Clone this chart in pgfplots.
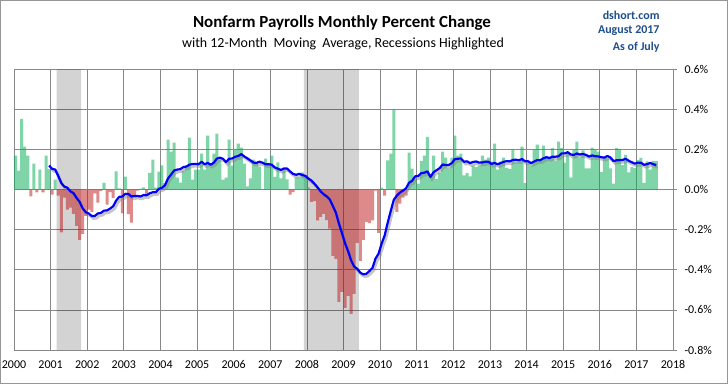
\documentclass[border=0pt]{standalone}
\usepackage{pgfplots}
\usepackage{pgfplotstable}
\pgfplotsset{compat=1.18}
\usepackage{fontspec}
\setmainfont{Carlito}
\definecolor{gridgray}{RGB}{136,136,136}
\definecolor{posgreen}{RGB}{0,173,81}
\definecolor{negred}{RGB}{190,22,22}
\definecolor{dblue}{RGB}{31,78,140}
\definecolor{frame}{RGB}{150,150,150}

% monthly percent change, Jan 2000 - Jul 2017
\pgfplotstableread{
p
0.17
0.095
0.353
0.215
0.17
-0.033
0.13
-0.013
0.10
-0.013
0.17
0.103
-0.025
0.05
-0.03
-0.213
-0.04
-0.10
-0.09
-0.12
-0.18
-0.25
-0.22
-0.13
-0.10
-0.11
-0.018
-0.065
-0.006
0.034
-0.074
-0.012
-0.041
0.092
0.007
-0.118
0.065
-0.122
-0.164
-0.038
-0.005
0.005
0.012
-0.03
0.084
0.15
0.01
0.09
0.122
0.033
0.25
0.19
0.235
0.06
0.035
0.093
0.12
0.26
0.05
0.10
0.10
0.18
0.10
0.27
0.13
0.18
0.28
0.15
0.05
0.06
0.25
0.12
0.20
0.23
0.21
0.13
0.017
0.057
0.15
0.135
0.115
0.002
0.155
0.125
0.17
0.064
0.137
0.057
0.105
0.052
-0.024
-0.012
0.062
0.06
0.086
0.07
0.012
-0.061
-0.057
-0.153
-0.135
-0.12
-0.152
-0.194
-0.33
-0.345
-0.56
-0.51
-0.59
-0.53
-0.62
-0.52
-0.265
-0.355
-0.25
-0.16
-0.167
-0.153
-0.005
-0.215
0.01
-0.03
0.146
0.18
0.40
-0.11
-0.07
-0.04
-0.03
0.185
0.105
0.055
0.03
0.143
0.17
0.264
0.059
0.17
0.053
0.084
0.19
0.16
0.107
0.16
0.27
0.17
0.18
0.072
0.083
0.066
0.12
0.113
0.12
0.17
0.15
0.16
0.14
0.23
0.10
0.14
0.16
0.108
0.103
0.20
0.137
0.14
0.215
0.033
0.135
0.12
0.197
0.225
0.154
0.22
0.168
0.158
0.207
0.145
0.24
0.207
0.135
0.19
0.06
0.20
0.24
0.16
0.196
0.106
0.106
0.21
0.20
0.19
0.088
0.165
0.157
0.107
0.03
0.207
0.203
0.123
0.174
0.086
0.114
0.108
0.148
0.159
0.034
0.142
0.10
0.144
0.143
}\pct

% 12-month moving average, Dec 2000 - Jul 2017
\pgfplotstableread{
ma
0.1206
0.104
0.1006
0.0687
0.033
0.0155
0.0099
-0.0084
-0.0173
-0.0407
-0.0604
-0.0929
-0.1123
-0.1186
-0.1319
-0.1309
-0.1186
-0.1158
-0.1046
-0.1033
-0.0943
-0.0827
-0.0542
-0.0353
-0.0343
-0.0205
-0.0215
-0.0337
-0.0314
-0.0313
-0.0338
-0.0266
-0.0281
-0.0177
-0.0128
-0.0126
0.0048
0.0095
0.0224
0.0569
0.0759
0.0959
0.1005
0.1024
0.1127
0.1157
0.1248
0.1282
0.129
0.1272
0.1394
0.1269
0.1336
0.1248
0.1348
0.1553
0.16
0.1542
0.1375
0.1542
0.1558
0.1642
0.1683
0.1775
0.1658
0.1564
0.1462
0.1353
0.1341
0.1395
0.1347
0.1268
0.1272
0.1247
0.1108
0.1048
0.0987
0.106
0.1056
0.0911
0.0788
0.0744
0.0793
0.0735
0.0689
0.0558
0.0453
0.0292
0.0117
-0.0083
-0.0227
-0.0333
-0.0485
-0.0812
-0.1149
-0.1688
-0.2171
-0.2673
-0.3063
-0.3533
-0.3838
-0.3947
-0.4143
-0.4224
-0.4196
-0.406
-0.39
-0.3438
-0.3192
-0.269
-0.2275
-0.1637
-0.1053
-0.0499
-0.0295
-0.0145
-0.0045
0.0069
0.0351
0.0443
0.0668
0.0684
0.0828
0.0848
0.0918
0.0634
0.0868
0.097
0.1073
0.1257
0.1236
0.1238
0.1325
0.1525
0.1548
0.1556
0.1396
0.1416
0.1329
0.1385
0.1409
0.1351
0.1359
0.1395
0.1395
0.1287
0.1337
0.127
0.1327
0.1391
0.1426
0.1412
0.1484
0.1498
0.1473
0.1528
0.1422
0.1418
0.1326
0.1407
0.1478
0.1473
0.1566
0.162
0.1585
0.1643
0.1648
0.1668
0.1813
0.1813
0.1872
0.1758
0.1737
0.1808
0.1758
0.1782
0.1738
0.1654
0.1708
0.1675
0.1661
0.1622
0.1601
0.1682
0.1604
0.1429
0.1468
0.1474
0.1488
0.1545
0.1442
0.137
0.1302
0.1352
0.1347
0.1244
0.1273
0.1332
0.1279
0.1229
}\mavg

\begin{document}
\begin{tikzpicture}
\useasboundingbox (0,0) rectangle (728bp,384bp);
\fill[white] (0,0) rectangle (728bp,384bp);
\draw[frame, line width=1bp] (0.5bp,0.5bp) rectangle (727.5bp,383.5bp);
\begin{axis}[
  at={(14bp,34bp)}, anchor=south west,
  scale only axis, width=659bp, height=280.5bp,
  xmin=0, xmax=216, ymin=-0.8, ymax=0.6,
  axis line style={draw=gridgray, line width=0.75bp},
  grid=major, grid style={draw=gridgray, line width=0.75bp},
  xtick={0,12,24,36,48,60,72,84,96,108,120,132,144,156,168,180,192,204,216},
  xticklabels={2000,2001,2002,2003,2004,2005,2006,2007,2008,2009,2010,2011,2012,2013,2014,2015,2016,2017,2018},
  xtick style={draw=none},
  ytick={-0.8,-0.6,-0.4,-0.2,0,0.2,0.4,0.6},
  yticklabels={{-0.8\%},{-0.6\%},{-0.4\%},{-0.2\%},{0.0\%},{0.2\%},{0.4\%},{0.6\%}},
  ytick pos=right, yticklabel pos=right,
  tick align=outside, major tick length=4bp,
  ytick style={draw=gridgray, line width=0.75bp},
  ticklabel style={font=\fontsize{12}{14}\selectfont, text=black},
  yticklabel style={anchor=west, xshift=4bp},
  xticklabel style={yshift=-3bp},
]
\addplot[fill=black, fill opacity=0.173, draw=none] coordinates {(14,-0.8) (14,0.6) (22,0.6) (22,-0.8) (14,-0.8)};
\addplot[fill=black, fill opacity=0.173, draw=none] coordinates {(95,-0.8) (95,0.6) (113,0.6) (113,-0.8) (95,-0.8)};
\addplot[ybar, bar width=1, bar shift=0pt, fill=posgreen, fill opacity=0.5, draw=none,
  restrict y to domain=0:1] table[x expr=\coordindex+0.5, y index=0] {\pct};
\addplot[ybar, bar width=1, bar shift=0pt, fill=negred, fill opacity=0.5, draw=none,
  restrict y to domain=-1:0] table[x expr=\coordindex+0.5, y index=0] {\pct};
\addplot[gray, opacity=0.45, line width=2.6bp, no markers]
  table[x index=0, y index=0, x expr=\coordindex+12.0, y expr=\thisrowno{0}-0.012] {\mavg};
\addplot[blue, line width=2.2bp, no markers, line join=round]
  table[x expr=\coordindex+11.5, y index=0] {\mavg};
\end{axis}
\node[font=\fontsize{17}{20}\selectfont\bfseries, text=black] at (342bp,361bp) {Nonfarm Payrolls Monthly Percent Change};
\node[font=\fontsize{14}{17}\selectfont, text=black] at (343bp,340bp) {with 12-Month\hspace{0.45em}Moving\hspace{0.45em}Average, Recessions Highlighted};
\node[anchor=east, font=\fontsize{12}{14}\selectfont\bfseries, text=dblue] at (663bp,369bp) {dshort.com};
\node[anchor=east, font=\fontsize{12}{14}\selectfont\bfseries, text=dblue] at (663bp,353bp) {August 2017};
\node[anchor=east, font=\fontsize{12}{14}\selectfont\bfseries, text=dblue] at (663bp,337bp) {As of July};
\end{tikzpicture}
\end{document}
